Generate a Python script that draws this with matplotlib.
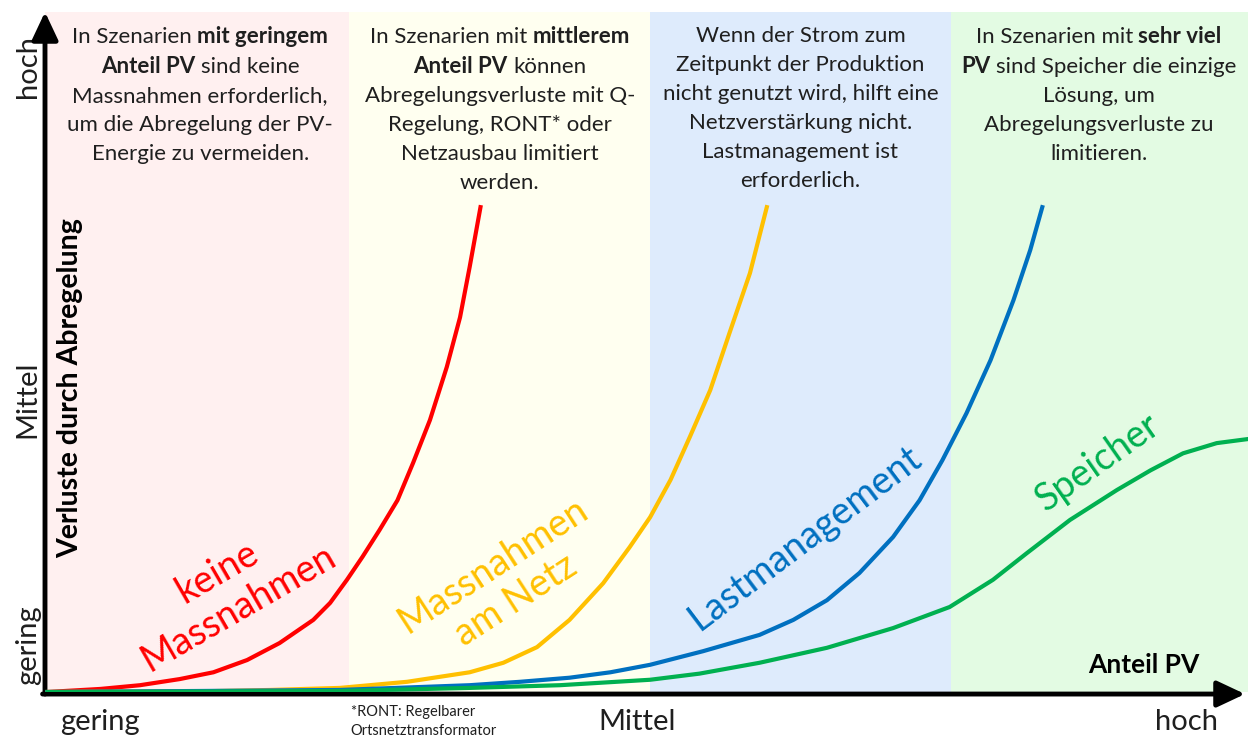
import matplotlib
matplotlib.use("Agg")
import matplotlib.pyplot as plt
from matplotlib.offsetbox import TextArea, HPacker, VPacker, AnnotationBbox

plt.rcParams['font.family'] = ['Lato', 'DejaVu Sans']

# Anteil PV (0..100) vs. Verluste durch Abregelung (0..100)
red_x = [0.2, 4.6, 7.9, 11.2, 14.0, 16.8, 19.5, 22.3, 23.7, 25.1, 26.4, 27.8, 29.3,
         30.6, 32.0, 33.4, 34.5, 35.3, 36.2]
red_y = [0, 0.45, 1.0, 1.9, 2.9, 4.7, 7.2, 10.6, 13.1, 16.5, 19.9, 23.8, 28.2,
         33.7, 40.0, 47.8, 55.1, 62.5, 71.3]

yellow_x = [0.2, 12.9, 18.7, 24.5, 30.1, 35.3, 38.1, 40.9, 43.6, 46.4, 48.6, 50.3,
            52.0, 53.6, 55.3, 56.9, 58.6, 60.0]
yellow_y = [0, 0.1, 0.3, 0.6, 1.5, 2.9, 4.3, 6.6, 10.6, 16.0, 21.3, 25.7,
            31.2, 37.5, 44.4, 52.8, 61.6, 71.3]

blue_x = [0.2, 12.9, 24.5, 35.3, 39.5, 43.6, 47.0, 50.3, 54.7, 59.4, 62.2, 65.0,
          67.7, 70.5, 72.7, 74.6, 76.6, 78.6, 80.5, 81.9, 82.9]
blue_y = [0, 0.15, 0.3, 1.0, 1.5, 2.1, 2.9, 4.0, 6.0, 8.4, 10.6, 13.5,
          17.5, 22.8, 28.2, 34.1, 41.0, 48.8, 57.6, 65.0, 71.3]

green_x = [0.2, 24.5, 35.3, 42.8, 50.3, 54.4, 59.4, 65.0, 70.5, 75.2, 78.8, 81.6,
           85.2, 89.1, 91.9, 94.6, 97.4, 100]
green_y = [0, 0.15, 0.6, 1.0, 1.8, 2.7, 4.3, 6.5, 9.4, 12.5, 16.5, 20.4,
           25.3, 29.7, 32.6, 35.1, 36.6, 37.2]

band_edges = [0, 25.3, 50.3, 75.3, 100]
band_colors = ['#fff0f0', '#fffff0', '#deebfc', '#e3fbe3']

level_labels = ['gering', 'Mittel', 'hoch']
x_level_pos = [4.6, 49.2, 94.9]
y_level_pos = [6.9, 43.0, 92.0]

# (text, bold) pieces per line, one block per band
band_texts = [
    [[('In Szenarien', False), ('mit geringem', True)],
     [('Anteil PV', True), ('sind keine', False)],
     [('Massnahmen erforderlich,', False)],
     [('um die Abregelung der PV-', False)],
     [('Energie zu vermeiden.', False)]],
    [[('In Szenarien mit', False), ('mittlerem', True)],
     [('Anteil PV', True), ('können', False)],
     [('Abregelungsverluste mit Q-', False)],
     [('Regelung, RONT* oder', False)],
     [('Netzausbau limitiert', False)],
     [('werden.', False)]],
    [[('Wenn der Strom zum', False)],
     [('Zeitpunkt der Produktion', False)],
     [('nicht genutzt wird, hilft eine', False)],
     [('Netzverstärkung nicht.', False)],
     [('Lastmanagement ist', False)],
     [('erforderlich.', False)]],
    [[('In Szenarien mit', False), ('sehr viel', True)],
     [('PV', True), ('sind Speicher die einzige', False)],
     [('Lösung, um', False)],
     [('Abregelungsverluste zu', False)],
     [('limitieren.', False)]],
]
band_text_x = [12.9, 37.8, 62.8, 87.6]

TXT = '#1f1f1f'

fig = plt.figure(figsize=(12.48, 7.4), dpi=100)
ax = fig.add_axes([45 / 1248, 48 / 740, 1203 / 1248, 680 / 740])
ax.set_xlim(0, 100)
ax.set_ylim(0, 100)
for s in ax.spines.values():
    s.set_visible(False)

for i, c in enumerate(band_colors):
    ax.axvspan(band_edges[i], band_edges[i + 1], color=c, lw=0, zorder=0)

# axis arrows
arrow_kw = dict(arrowstyle='-|>,head_length=0.85,head_width=0.4',
                mutation_scale=20, lw=3.5, color='black', shrinkA=0, shrinkB=0)
ax.annotate('', xy=(0, 1.0), xytext=(0, -0.003), xycoords='axes fraction',
            arrowprops=arrow_kw, annotation_clip=False, zorder=2)
ax.annotate('', xy=(0.9975, -0.003), xytext=(-0.002, -0.003), xycoords='axes fraction',
            arrowprops=arrow_kw, annotation_clip=False, zorder=2)

ax.plot(red_x, red_y, color='#ff0000', lw=3, zorder=3)
ax.plot(yellow_x, yellow_y, color='#ffc000', lw=3, zorder=3)
ax.plot(blue_x, blue_y, color='#0070c0', lw=3, zorder=3)
ax.plot(green_x, green_y, color='#00b050', lw=3, zorder=4)

ax.text(15.2, 15.0, 'keine\nMassnahmen', color='#ff0000', fontsize=27,
        rotation=30, ha='center', va='center', multialignment='center', zorder=5)
ax.text(38.2, 16.0, 'Massnahmen\nam Netz', color='#ffc000', fontsize=27,
        rotation=33, ha='center', va='center', multialignment='center', zorder=5)
ax.text(63.2, 22.6, 'Lastmanagement', color='#0070c0', fontsize=27,
        rotation=37, ha='center', va='center', zorder=5)
ax.text(87.5, 33.8, 'Speicher', color='#00b050', fontsize=27,
        rotation=35, ha='center', va='center', zorder=5)

# level ticks
ax.set_xticks(x_level_pos)
ax.set_xticklabels(level_labels, fontsize=21, color=TXT)
ax.set_yticks(y_level_pos)
ax.set_yticklabels(level_labels, fontsize=21, color=TXT, rotation=90, va='center')
ax.tick_params(axis='both', length=0)
ax.tick_params(axis='x', pad=12)
ax.tick_params(axis='y', pad=3)

ax.text(2.1, 44.7, 'Verluste durch Abregelung', rotation=90, fontsize=20.5,
        fontweight='bold', color='black', ha='center', va='center', zorder=5)
ax.text(96.0, 4.0, 'Anteil PV', fontsize=19, fontweight='bold', color='black',
        ha='right', va='center', zorder=5)
ax.text(25.4, -1.9, '*RONT: Regelbarer\nOrtsnetztransformator', fontsize=10.5,
        color=TXT, ha='left', va='top', clip_on=False, linespacing=1.5)

# annotation blocks at the top
for cx, lines in zip(band_text_x, band_texts):
    rows = []
    for line in lines:
        parts = [TextArea(t, textprops=dict(fontsize=16, color=TXT,
                                             fontweight='bold' if b else 'normal'))
                 for t, b in line]
        rows.append(HPacker(children=parts, align='baseline', pad=0, sep=3.8))
    box = VPacker(children=rows, align='center', pad=0, sep=6.6)
    ab = AnnotationBbox(box, (cx, 98.0), xycoords='data', box_alignment=(0.5, 1),
                        frameon=False, pad=0, zorder=5)
    ax.add_artist(ab)

fig.savefig('out.png', dpi=100)
